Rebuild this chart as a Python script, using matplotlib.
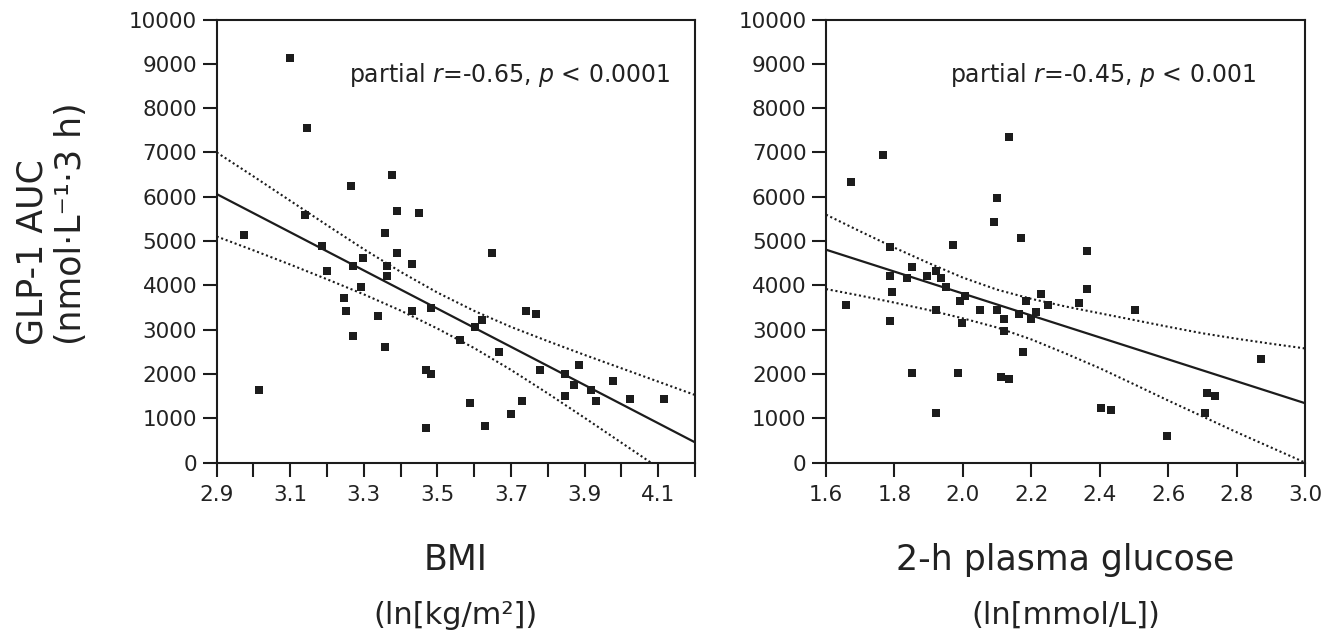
import matplotlib

matplotlib.use("Agg")

import matplotlib.pyplot as plt
import numpy as np

plt.rcParams["font.family"] = ["DejaVu Sans"]
plt.rcParams["mathtext.fontset"] = "dejavusans"

# left panel: BMI (ln kg/m2) vs GLP-1 AUC
bmi = [3.099, 3.145, 3.376, 3.265, 3.390, 3.450, 3.140, 3.357, 2.973, 3.186,
       3.390, 3.647, 3.297, 3.200, 3.270, 3.362, 3.430, 3.362, 3.292, 3.246,
       3.251, 3.338, 3.430, 3.482, 3.270, 3.357, 3.740, 3.768, 3.620, 3.601,
       3.561, 3.667, 3.469, 3.482, 3.778, 3.847, 3.884, 3.871, 3.917, 3.976,
       3.847, 3.930, 4.023, 4.115, 3.731, 3.588, 3.699, 3.628, 3.469, 3.014]
auc_bmi = [9130, 7550, 6480, 6240, 5680, 5640, 5590, 5190, 5130, 4890,
           4730, 4730, 4620, 4320, 4430, 4430, 4480, 4210, 3960, 3710,
           3420, 3300, 3420, 3490, 2850, 2600, 3420, 3360, 3210, 3060,
           2760, 2490, 2080, 1990, 2080, 1990, 2200, 1750, 1630, 1840,
           1500, 1380, 1430, 1430, 1380, 1340, 1090, 820, 770, 1630]

bmi_fit_x = [2.9, 4.2]
bmi_fit_y = [6061, 456]
bmi_band_x = [2.9, 3.0, 3.1, 3.2, 3.3, 3.4, 3.5, 3.6, 3.7, 3.8, 3.9, 4.0, 4.1, 4.2]
bmi_band_hi = [7001, 6460, 5909, 5357, 4816, 4305, 3836, 3423, 3061, 2740, 2429, 2128, 1827, 1525]
bmi_band_lo = [5103, 4790, 4469, 4137, 3796, 3430, 3024, 2583, 2091, 1560, 1009, 448, -113, -674]
bmi_ticks = [2.9, 3.1, 3.3, 3.5, 3.7, 3.9, 4.1]
bmi_minor = [3.0, 3.2, 3.4, 3.6, 3.8, 4.0, 4.2]

# right panel: 2-h plasma glucose (ln mmol/L) vs GLP-1 AUC
glu = [2.135, 1.767, 1.672, 2.100, 2.091, 2.169, 1.971, 1.787, 2.362, 1.851,
       1.787, 1.837, 1.895, 1.922, 1.936, 1.950, 1.793, 2.362, 2.228, 1.992,
       2.006, 2.184, 2.248, 2.339, 1.659, 1.922, 2.050, 2.100, 2.163, 2.213,
       2.503, 2.120, 2.198, 1.787, 1.999, 2.120, 2.175, 2.871, 1.851, 1.986,
       2.113, 2.135, 2.715, 2.736, 2.403, 2.432, 1.922, 2.708, 2.596]
auc_glu = [7350, 6940, 6330, 5970, 5430, 5060, 4900, 4870, 4770, 4410,
           4200, 4160, 4200, 4320, 4160, 3960, 3840, 3910, 3800, 3640,
           3750, 3640, 3550, 3590, 3550, 3440, 3440, 3440, 3350, 3390,
           3440, 3230, 3230, 3190, 3140, 2980, 2490, 2330, 2030, 2030,
           1920, 1880, 1580, 1510, 1220, 1180, 1110, 1110, 610]

glu_fit_x = [1.6, 3.0]
glu_fit_y = [4805, 1340]
glu_band_x = [1.6, 1.7, 1.8, 1.9, 2.0, 2.1, 2.2, 2.3, 2.4, 2.5, 2.6, 2.7, 2.8, 2.9, 3.0]
glu_band_hi = [5596, 5218, 4850, 4503, 4175, 3903, 3695, 3523, 3370, 3218, 3065, 2918, 2795, 2683, 2576]
glu_band_lo = [3916, 3768, 3610, 3443, 3255, 3048, 2780, 2463, 2131, 1768, 1400, 1043, 685, 343, 0]
glu_ticks = [1.6, 1.8, 2.0, 2.2, 2.4, 2.6, 2.8, 3.0]

auc_ticks = list(range(0, 10001, 1000))

INK = "#1c1c1c"
TEXT = "#222222"


def draw_panel(ax, x, y, fit_x, fit_y, band_x, band_hi, band_lo):
    ax.plot(x, y, "s", color=INK, ms=5.6, mew=0, zorder=3)
    ax.plot(fit_x, fit_y, color=INK, lw=1.6, solid_capstyle="butt")
    for band in (band_hi, band_lo):
        ax.plot(band_x, band, color=INK, lw=1.5, linestyle=(0, (1, 1.3)))
    ax.set_ylim(0, 10000)
    ax.set_yticks(auc_ticks)
    for side in ax.spines.values():
        side.set_linewidth(1.5)
        side.set_color(INK)
    ax.tick_params(axis="both", which="both", direction="out", length=10, width=1.5,
                   color=INK, labelcolor=TEXT, labelsize=15.5)
    ax.tick_params(axis="x", which="both", pad=6)
    ax.tick_params(axis="y", pad=4)


fig = plt.figure(figsize=(13.22, 6.31), dpi=100)
ax1 = fig.add_axes([0.1639, 0.267, 0.3618, 0.702])
ax2 = fig.add_axes([0.6248, 0.267, 0.3623, 0.702])

draw_panel(ax1, bmi, auc_bmi, bmi_fit_x, bmi_fit_y, bmi_band_x, bmi_band_hi, bmi_band_lo)
ax1.set_xlim(2.9, 4.2)
ax1.set_xticks(bmi_ticks)
ax1.set_xticks(bmi_minor, minor=True)
ax1.set_xticklabels([f"{v:.1f}" for v in bmi_ticks])
ax1.text(0.948, 0.86, "partial $r$=-0.65, $p$ < 0.0001", transform=ax1.transAxes,
         ha="right", fontsize=17, color=TEXT)

draw_panel(ax2, glu, auc_glu, glu_fit_x, glu_fit_y, glu_band_x, glu_band_hi, glu_band_lo)
ax2.set_xlim(1.6, 3.0)
ax2.set_xticks(glu_ticks)
ax2.set_xticklabels([f"{v:.1f}" for v in glu_ticks])
ax2.text(0.898, 0.86, "partial $r$=-0.45, $p$ < 0.001", transform=ax2.transAxes,
         ha="right", fontsize=17, color=TEXT)

fig.text(0.039, 0.453, "GLP-1 AUC\n(nmol·L⁻¹·3 h)", rotation=90, ha="center", va="bottom",
         multialignment="left", fontsize=25, linespacing=1.15, color=TEXT)

for ax, main, unit in ((ax1, "BMI", "(ln[kg/m²])"), (ax2, "2-h plasma glucose", "(ln[mmol/L])")):
    pos = ax.get_position()
    cx = pos.x0 + pos.width / 2
    fig.text(cx, 1 - 560 / 631, main, ha="center", va="center", fontsize=25, color=TEXT)
    fig.text(cx, 1 - 615 / 631, unit, ha="center", va="center", fontsize=22, color=TEXT)

fig.savefig("out.png", dpi=100)
